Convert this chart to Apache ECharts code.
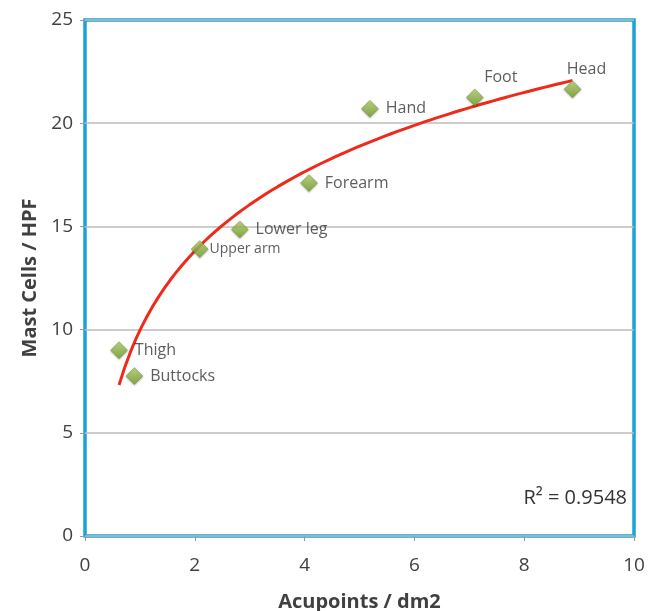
<!DOCTYPE html>
<html><head><meta charset="utf-8">
<script src="https://cdn.jsdelivr.net/npm/echarts@6/dist/echarts.min.js"></script>
<style>html,body{margin:0;padding:0;background:#fff}#c{width:655px;height:611px}</style>
</head><body><div id="c"></div>
<script>
const regions = ['Thigh','Buttocks','Upper arm','Lower leg','Forearm','Hand','Foot','Head'];
const acupoints = [0.62, 0.90, 2.09, 2.82, 4.08, 5.19, 7.10, 8.88];
const mastCells = [9.0, 7.75, 13.9, 14.85, 17.1, 20.7, 21.25, 21.65];
const labelPos = ['right','right','right','right','right','right','top','top'];
const labelShift = [0,0,0,0,0,0,26,14];
const r2Text = 'R² = 0.9548';

// logarithmic trendline (least squares of y on ln x), as in a spreadsheet trendline
const lx = acupoints.map(Math.log);
const n = lx.length;
const mx = lx.reduce((a,b)=>a+b,0)/n, my = mastCells.reduce((a,b)=>a+b,0)/n;
let sxy=0, sxx=0;
for(let i=0;i<n;i++){ sxy+=(lx[i]-mx)*(mastCells[i]-my); sxx+=(lx[i]-mx)**2; }
const slope = sxy/sxx, icpt = my - slope*mx;
const xmin = Math.min(...acupoints), xmax = Math.max(...acupoints);
const trend = [];
for(let k=0;k<=80;k++){ const x = xmin + (xmax-xmin)*k/80; trend.push([x, icpt + slope*Math.log(x)]); }

const pts = acupoints.map((x,i)=>({
  value:[x, mastCells[i]],
  label:{ show:true, formatter: regions[i], position: labelPos[i],
          fontSize: regions[i]==='Upper arm' ? 14 : 16,
          distance: labelPos[i]==='top' ? 3 : (regions[i]==='Upper arm'?1:7),
          offset: [labelShift[i],0],
          color:'#333', fontFamily:'Open Sans' }
}));

const chart = echarts.init(document.getElementById('c'), null, {renderer:'canvas'});
chart.setOption({
  animation:false,
  grid:{ left:85, top:20, right:21, bottom:75, outerBoundsMode:'none', containLabel:false,
    show:true, borderColor:'#1ba3d6', borderWidth:3.5, backgroundColor:'#fff' },
  xAxis:{ type:'value', min:0, max:10, interval:2,
    name:'Acupoints / dm2', nameLocation:'middle', nameGap:56,
    nameTextStyle:{ fontSize:20, fontWeight:'bold', color:'#404040', fontFamily:'Open Sans' },
    axisLine:{show:false}, axisTick:{show:true, length:5, lineStyle:{color:'#999'}},
    axisLabel:{ fontSize:19, color:'#404040', margin:20, fontFamily:'Open Sans' },
    splitLine:{show:false} },
  yAxis:{ type:'value', min:0, max:25, interval:5,
    name:'Mast Cells / HPF', nameLocation:'middle', nameGap:44,
    nameTextStyle:{ fontSize:20, fontWeight:'bold', color:'#404040', fontFamily:'Open Sans' },
    axisLine:{show:false}, axisTick:{show:true, length:5, lineStyle:{color:'#999'}},
    axisLabel:{ fontSize:19, color:'#404040', margin:12, fontFamily:'Open Sans' },
    splitLine:{ show:true, lineStyle:{ color:'#bbb', width:1.5 } } },
  graphic:[{ type:'text', right:28, top:488,
    style:{ text:r2Text, fontSize:20, fill:'#333', fontFamily:'Open Sans' } }],
  series:[
    { type:'line', data:trend, showSymbol:false, smooth:false, z:3,
      lineStyle:{ color:'#ee2a1b', width:3 } },
    { type:'scatter', data:pts, symbol:'diamond', symbolSize:17, z:4,
      itemStyle:{ color:{ type:'linear', x:0,y:0,x2:0,y2:1,
        colorStops:[{offset:0,color:'#b7d56e'},{offset:1,color:'#6f9a24'}] },
        borderColor:'#6a8f2a', borderWidth:0.6,
        shadowColor:'rgba(0,0,0,0.3)', shadowBlur:2, shadowOffsetY:1 } }
  ]
});
</script></body></html>
